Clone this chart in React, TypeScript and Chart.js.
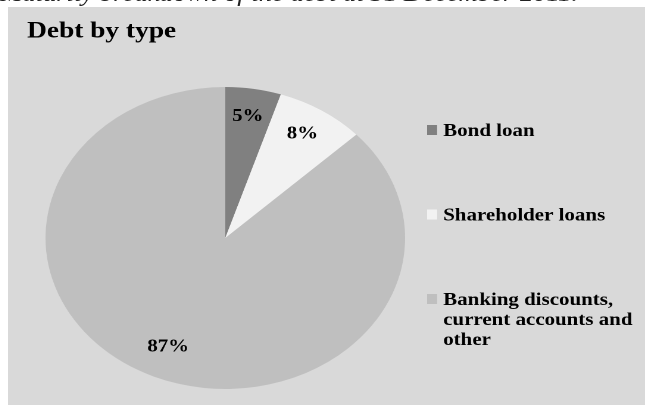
import React, { useEffect, useRef } from "react";
import { Chart, registerables } from "chart.js";

Chart.register(...registerables);

const TITLE = "Debt by type";
const CAPTION = "Maturity breakdown of the debt at 31 December 2011.";
const categories = ["Bond loan", "Shareholder loans", "Banking discounts, current accounts and other"];
const legendLines = [["Bond loan"], ["Shareholder loans"], ["Banking discounts,", "current accounts and", "other"]];
const shares = [5, 8, 87];
const sliceColors = ["#808080", "#f2f2f2", "#bfbfbf"];

const SERIF = "'Liberation Serif', 'Times New Roman', serif";
const STRETCH = 1.19;

const sliceLabels = {
  id: "sliceLabels",
  afterDatasetsDraw(chart: any) {
    const ctx = chart.ctx;
    const meta = chart.getDatasetMeta(0);
    const data = chart.data.datasets[0].data;
    ctx.save();
    ctx.font = `bold 17.5px ${SERIF}`;
    ctx.fillStyle = "#000";
    ctx.textAlign = "center";
    ctx.textBaseline = "middle";
    meta.data.forEach((arc: any, i: number) => {
      const p = arc.getProps(["x", "y", "startAngle", "endAngle", "outerRadius"], true);
      const mid = (p.startAngle + p.endAngle) / 2;
      const r = p.outerRadius * 0.8;
      ctx.fillText(`${data[i]}%`, p.x + Math.cos(mid) * r, p.y + Math.sin(mid) * r - 2);
    });
    ctx.restore();
  },
};

const sideLegend = {
  id: "sideLegend",
  afterDraw(chart: any) {
    const ctx = chart.ctx;
    const colors = chart.data.datasets[0].backgroundColor;
    const x0 = chart.chartArea.right + 3;
    const firstBaseline = 129;
    const pitch = 84.5;
    const lineStep = 20;
    ctx.save();
    ctx.font = `bold 17.6px ${SERIF}`;
    ctx.fillStyle = "#000";
    ctx.textAlign = "left";
    ctx.textBaseline = "alphabetic";
    legendLines.forEach((lines, i) => {
      const base = firstBaseline + pitch * i;
      ctx.fillStyle = colors[i];
      ctx.fillRect(x0, base - 11, 8.4, 10);
      ctx.fillStyle = "#000";
      lines.forEach((t, j) => {
        ctx.fillText(t, x0 + 13.5, base + j * lineStep);
      });
    });
    ctx.restore();
  },
};

export default function App() {
  const ref = useRef<HTMLCanvasElement>(null);
  useEffect(() => {
    if (!ref.current) return;
    const chart = new Chart(ref.current, {
      type: "pie",
      data: {
        labels: categories,
        datasets: [
          {
            data: shares,
            backgroundColor: sliceColors,
            borderWidth: 0,
          },
        ],
      },
      options: {
        responsive: false,
        animation: false,
        devicePixelRatio: 2,
        layout: { padding: { left: 16, right: 186, top: 0, bottom: 16 } },
        plugins: {
          legend: { display: false },
          tooltip: { enabled: false },
          title: {
            display: true,
            text: TITLE,
            align: "start",
            color: "#000",
            font: { family: SERIF, size: 23, weight: "bold", lineHeight: 1.2 },
            padding: { top: 11, bottom: 41.4 },
          },
        },
      },
      plugins: [sliceLabels, sideLegend],
    } as any);
    return () => chart.destroy();
  }, []);

  return (
    <div>
      <div
        style={{
          position: "fixed",
          left: 0,
          top: -17.5,
          fontFamily: SERIF,
          fontStyle: "italic",
          fontSize: 22.4,
          lineHeight: "22px",
          whiteSpace: "nowrap",
          transform: `scaleX(${STRETCH})`,
          transformOrigin: "left top",
          color: "#222",
          zIndex: 0,
        }}
      >
        {CAPTION}
      </div>
      <div
        style={{
          position: "fixed",
          left: 8,
          top: 7,
          width: 637,
          height: 398,
          background: "#d9d9d9",
          zIndex: 1,
        }}
      >
        <canvas
          ref={ref}
          width={535}
          height={398}
          style={{ width: "637px", height: "398px", display: "block" }}
        />
      </div>
    </div>
  );
}
